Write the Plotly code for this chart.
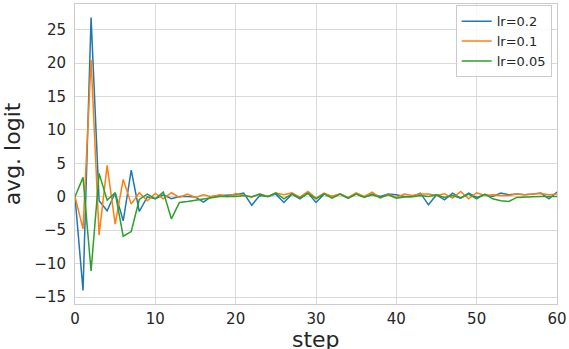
import plotly.graph_objects as go

steps = list(range(61))

lr_02 = [0, -14.0, 26.8, -0.6, -2.1, 0.6, -3.6, 4.0, -2.2, 0.0,
         -0.3, 0.3, -0.3, 0.05, 0.05, -0.05, -0.8, 0.05, 0.2, 0.2,
         0.3, 0.55, -1.25, 0.2, 0.05, 0.4, -0.85, 0.4, -0.3, 0.55,
         -0.85, 0.4, 0.05, 0.4, -0.2, 0.45, -0.05, 0.4, 0.05, 0.4,
         0.3, 0.05, 0.05, 0.55, -1.2, 0.3, -0.45, 0.55, -0.2, 0.55,
         -0.1, 0.3, 0.05, 0.55, 0.3, 0.4, 0.3, 0.4, 0.55, -0.3, 0.7]

lr_01 = [0, -4.8, 20.5, -5.7, 4.7, -4.1, 2.6, -1.1, 0.6, -0.6,
         0.5, -0.3, 0.6, -0.1, 0.4, -0.1, 0.3, 0.0, 0.3, 0.0,
         0.5, 0.2, -0.05, 0.4, 0.05, 0.55, 0.3, 0.6, -0.05, 0.8,
         -0.2, 0.55, 0.05, 0.45, -0.1, 0.6, 0.05, 0.7, -0.2, 0.4,
         -0.1, 0.4, 0.2, 0.4, 0.4, 0.2, 0.45, -0.2, 0.8, -0.3,
         0.6, 0.2, 0.3, 0.2, 0.2, 0.4, 0.3, 0.4, 0.5, 0.3, 0.4]

lr_005 = [0, 2.9, -11.1, 3.5, -0.5, 0.6, -5.9, -5.2, -0.4, 0.4,
          -0.3, 0.7, -3.3, -0.85, -0.7, -0.5, -0.3, -0.05, 0.05, 0.05,
          0.05, 0.2, 0.0, 0.4, 0.0, 0.6, -0.3, 0.45, -0.2, 0.55,
          -0.3, 0.45, -0.2, 0.4, -0.2, 0.4, -0.05, 0.3, -0.1, 0.3,
          -0.2, -0.05, 0.0, 0.2, 0.05, 0.3, -0.1, 0.2, -0.2, 0.4,
          -0.3, 0.4, -0.3, -0.6, -0.7, -0.1, 0.0, 0.0, 0.05, 0.05, 0.05]

series = [("lr=0.2", lr_02, "#1f77b4"),
          ("lr=0.1", lr_01, "#ff7f0e"),
          ("lr=0.05", lr_005, "#2ca02c")]

x_ticks = [0, 10, 20, 30, 40, 50, 60]
y_ticks = [-15, -10, -5, 0, 5, 10, 15, 20, 25]

FONT = "DejaVu Sans"
TXT = "#262626"
GRID = "#d9d9d9"
EDGE = "#cccccc"

fig = go.Figure()
for name, vals, color in series:
    fig.add_trace(go.Scatter(x=steps, y=vals, mode="lines", name=name,
                             line=dict(color=color, width=1.5)))

fig.update_layout(
    width=569, height=349,
    margin=dict(l=75, r=12, t=4, b=45, autoexpand=False),
    paper_bgcolor="white", plot_bgcolor="white",
    font=dict(family=FONT, color=TXT),
    showlegend=True,
    legend=dict(x=0.989, y=0.996, xanchor="right", yanchor="top",
                bgcolor="rgba(255,255,255,0.8)", bordercolor=EDGE,
                borderwidth=1, font=dict(size=13, family=FONT, color=TXT),
                tracegroupgap=0),
    xaxis=dict(range=[0, 60], tickvals=x_ticks, showgrid=True, automargin=False,
               gridcolor=GRID, gridwidth=1, zeroline=False,
               showline=True, linecolor=EDGE, linewidth=1, mirror=True,
               tickfont=dict(size=15, family=FONT, color=TXT),
               ticks="", ticklabelstandoff=1),
    yaxis=dict(range=[-16.04, 28.84], tickvals=y_ticks, showgrid=True, automargin=False,
               gridcolor=GRID, gridwidth=1, zeroline=False,
               showline=True, linecolor=EDGE, linewidth=1, mirror=True,
               tickfont=dict(size=15, family=FONT, color=TXT),
               ticks="", ticklabelstandoff=5,
               title=dict(text="avg. logit", font=dict(size=22, family=FONT, color=TXT))),
    annotations=[dict(text="step", xref="paper", yref="paper", x=0.5, y=-0.117,
                      xanchor="center", yanchor="middle", showarrow=False,
                      font=dict(size=22, family=FONT, color=TXT))],
)

fig.write_html("out.html", config={"displayModeBar": False},
               post_script="document.body.style.margin='0';document.body.style.padding='0';")
